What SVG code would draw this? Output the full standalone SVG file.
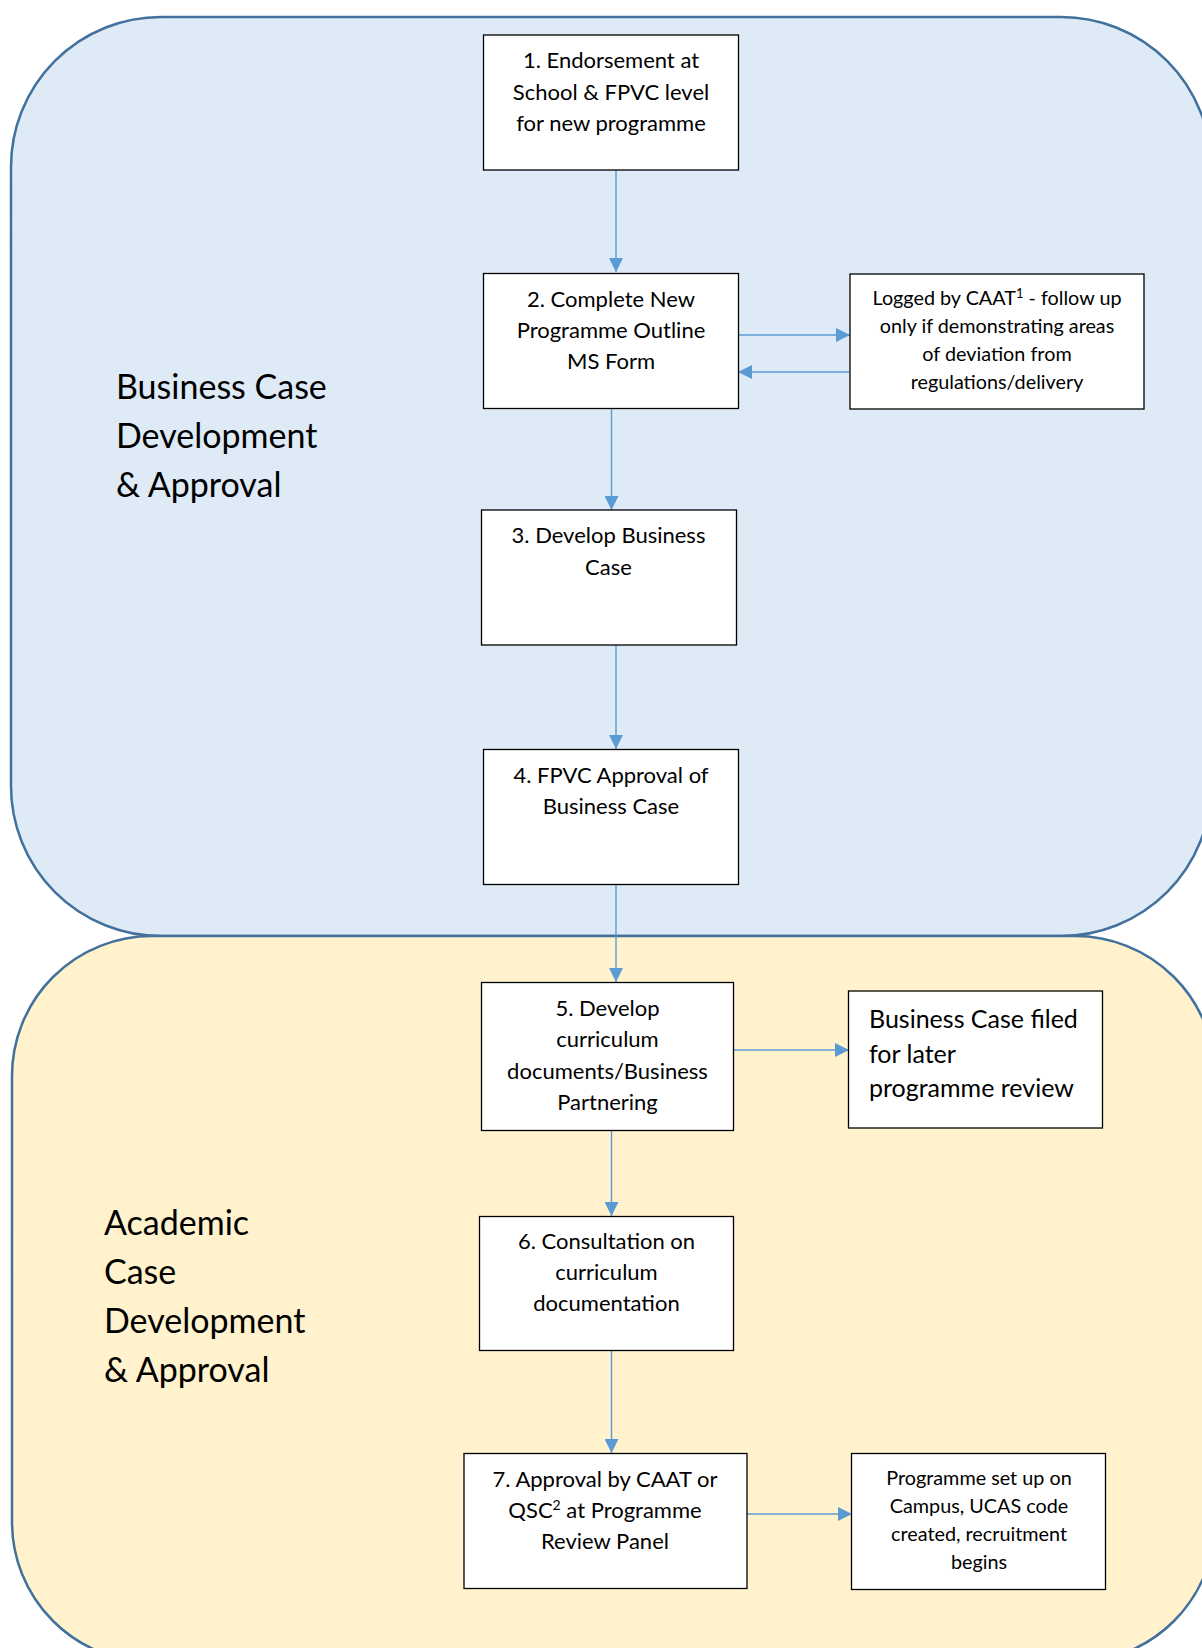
<svg xmlns="http://www.w3.org/2000/svg" width="1202" height="1648" viewBox="0 0 1202 1648">
<style>
.region-blue{fill:#DEEAF6;stroke:#41719C;stroke-width:2.5}
.region-yellow{fill:#FFF2CC;stroke:#41719C;stroke-width:2.5}
.box{fill:#FFFFFF;stroke:#000000;stroke-width:1.3}
.t{font-family:Lato,"Liberation Sans",sans-serif;fill:#000;text-anchor:middle}
.m{font-size:22px}
.s{font-size:19.8px}
.f{font-size:25px;text-anchor:start}
.lbl{font-family:Lato,"Liberation Sans",sans-serif;font-size:34px;fill:#000}
.conn{stroke:#5B9BD5;stroke-width:1.4;fill:none;marker-end:url(#ah)}
</style>
<defs>
<marker id="ah" markerUnits="userSpaceOnUse" markerWidth="14" markerHeight="14" viewBox="0 0 14 14" refX="14" refY="7" orient="auto">
<path d="M0,0 L14,7 L0,14 Z" fill="#5B9BD5"/>
</marker>
</defs>
<rect width="1202" height="1648" fill="#FFFFFF"/>
<g id="region-business">
<rect class="region-blue" x="11" y="17" width="1200" height="919" rx="150" ry="150"/>
<text class="lbl" x="116" y="399">Business Case</text>
<text class="lbl" x="116" y="448">Development</text>
<text class="lbl" x="116" y="497">&amp; Approval</text>
</g>
<g id="region-academic">
<rect class="region-yellow" x="12" y="936" width="1203" height="726" rx="140" ry="140"/>
<text class="lbl" x="104" y="1235">Academic</text>
<text class="lbl" x="104" y="1284">Case</text>
<text class="lbl" x="104" y="1333">Development</text>
<text class="lbl" x="104" y="1382">&amp; Approval</text>
</g>
<g id="connectors">
<line class="conn" x1="616" y1="170" x2="616" y2="272"/>
<line class="conn" x1="738" y1="335" x2="850" y2="335"/>
<line class="conn" x1="849" y1="372" x2="738" y2="372"/>
<line class="conn" x1="611.5" y1="409" x2="611.5" y2="510"/>
<line class="conn" x1="616" y1="645" x2="616" y2="749"/>
<line class="conn" x1="616" y1="885" x2="616" y2="982"/>
<line class="conn" x1="733" y1="1050" x2="849" y2="1050"/>
<line class="conn" x1="611.5" y1="1130" x2="611.5" y2="1216"/>
<line class="conn" x1="611.5" y1="1350" x2="611.5" y2="1453"/>
<line class="conn" x1="746" y1="1514" x2="852" y2="1514"/>
</g>
<g id="n1">
<rect class="box" x="483.5" y="35" width="255" height="135"/>
<text class="t m" x="611" y="68">1. Endorsement at</text>
<text class="t m" x="611" y="100">School &amp; FPVC level</text>
<text class="t m" x="611" y="131">for new programme</text>
</g>
<g id="n2">
<rect class="box" x="483.5" y="273.5" width="255" height="135"/>
<text class="t m" x="611" y="307">2. Complete New</text>
<text class="t m" x="611" y="338">Programme Outline</text>
<text class="t m" x="611" y="369">MS Form</text>
</g>
<g id="n-logged">
<rect class="box" x="850" y="274" width="294" height="135"/>
<text class="t s" x="997" y="305">Logged by CAAT<tspan font-size="13" dy="-7">1</tspan><tspan dy="7"> - follow up</tspan></text>
<text class="t s" x="997" y="333">only if demonstrating areas</text>
<text class="t s" x="997" y="361">of deviation from</text>
<text class="t s" x="997" y="389">regulations/delivery</text>
</g>
<g id="n3">
<rect class="box" x="481.5" y="510" width="255" height="135"/>
<text class="t m" x="608.5" y="543">3. Develop Business</text>
<text class="t m" x="608.5" y="575">Case</text>
</g>
<g id="n4">
<rect class="box" x="483.5" y="749.5" width="255" height="135"/>
<text class="t m" x="611" y="783">4. FPVC Approval of</text>
<text class="t m" x="611" y="814">Business Case</text>
</g>
<g id="n5">
<rect class="box" x="481.5" y="982.5" width="252" height="148"/>
<text class="t m" x="607.5" y="1016">5. Develop</text>
<text class="t m" x="607.5" y="1047">curriculum</text>
<text class="t m" x="607.5" y="1079">documents/Business</text>
<text class="t m" x="607.5" y="1110">Partnering</text>
</g>
<g id="n-filed">
<rect class="box" x="848.5" y="991" width="254" height="137"/>
<text class="t f" x="869" y="1028">Business Case filed</text>
<text class="t f" x="869" y="1063">for later</text>
<text class="t f" x="869" y="1097">programme review</text>
</g>
<g id="n6">
<rect class="box" x="479.5" y="1216.5" width="254" height="134"/>
<text class="t m" x="606.5" y="1249">6. Consultation on</text>
<text class="t m" x="606.5" y="1280">curriculum</text>
<text class="t m" x="606.5" y="1311">documentation</text>
</g>
<g id="n7">
<rect class="box" x="464" y="1453.5" width="283" height="135"/>
<text class="t m" x="605" y="1487">7. Approval by CAAT or</text>
<text class="t m" x="605" y="1518">QSC<tspan font-size="14" dy="-8">2</tspan><tspan dy="8"> at Programme</tspan></text>
<text class="t m" x="605" y="1549">Review Panel</text>
</g>
<g id="n-setup">
<rect class="box" x="851.5" y="1453.5" width="254" height="136"/>
<text class="t s" x="979" y="1485">Programme set up on</text>
<text class="t s" x="979" y="1513">Campus, UCAS code</text>
<text class="t s" x="979" y="1541">created, recruitment</text>
<text class="t s" x="979" y="1569">begins</text>
</g>
</svg>
